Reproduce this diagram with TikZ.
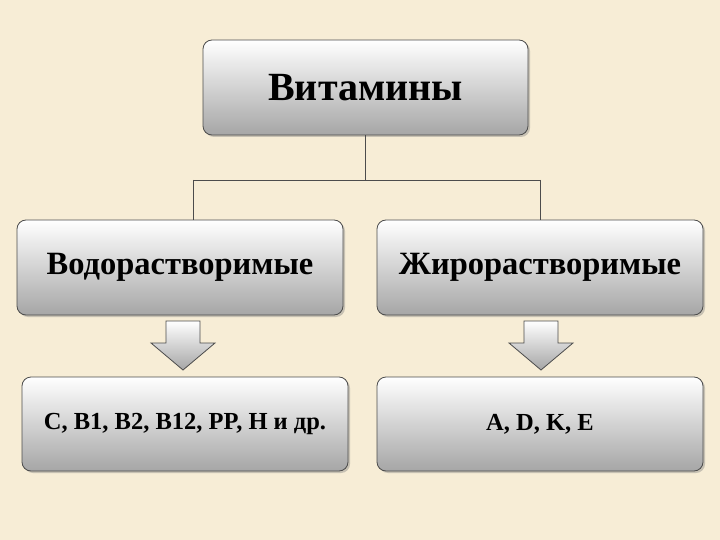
\documentclass[tikz,border=0pt]{standalone}
\usepackage{fontspec}
\setmainfont{Liberation Serif}
\usetikzlibrary{shadows}
\definecolor{bg}{HTML}{F7EDD6}
\tikzset{
 box/.style={draw=black!70, line width=0.8pt, rounded corners=9pt, top color=white, bottom color=black!35, drop shadow={shadow xshift=2pt, shadow yshift=-2pt, opacity=0.4}, font=\bfseries, text=black},
 conn/.style={draw=black!70, line width=0.8pt},
 barrow/.style={draw=black!70, line width=0.8pt, top color=white, bottom color=black!35}
}
\begin{document}
\begin{tikzpicture}[x=1pt,y=-1pt]
\fill[bg] (0,0) rectangle (720,540);
\useasboundingbox (0,0) rectangle (720,540);
\node[box, minimum width=325pt, minimum height=95pt, font=\bfseries\fontsize{40}{44}\selectfont] (top) at (365.5,87.5) {Витамины};
\node[box, minimum width=326pt, minimum height=95pt, font=\bfseries\fontsize{32.5}{36}\selectfont] (wl) at (180,267.5) {Водорастворимые};
\node[box, minimum width=326pt, minimum height=95pt, font=\bfseries\fontsize{32.5}{36}\selectfont] (fl) at (540,267.5) {Жирорастворимые};
\node[box, minimum width=326pt, minimum height=94pt, font=\bfseries\fontsize{24.5}{28}\selectfont] (wv) at (185,424) {C, B1, B2, B12, PP, H и др.};
\node[box, minimum width=326pt, minimum height=94pt, font=\bfseries\fontsize{24.5}{28}\selectfont] (fv) at (540,424) {A, D, K, E};
\coordinate (j) at (365.5,180);
\coordinate (jl) at (193,180);
\coordinate (jr) at (540,180);
\draw[conn] (top.south) -- (j) (jl) -- (jr) (jl) -- (jl|-wl.north) (jr) -- (jr|-fl.north);
\foreach \c in {183,541}{
 \draw[barrow] (\c-17,321) -- (\c+17,321) -- (\c+17,343) -- (\c+32,343) -- (\c,370) -- (\c-32,343) -- (\c-17,343) -- cycle;
}
\end{tikzpicture}
\end{document}
